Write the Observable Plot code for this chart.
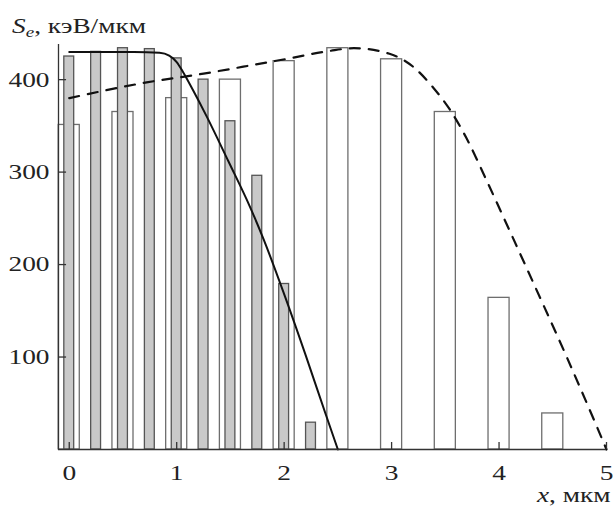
<!DOCTYPE html>
<html>
<head>
<meta charset="utf-8">
<script src="https://cdn.jsdelivr.net/npm/d3@7"></script>
<script src="https://cdn.jsdelivr.net/npm/@observablehq/plot@0.6"></script>
<style>
  html, body { margin: 0; padding: 0; background: #fff; }
  #chart { position: relative; width: 613px; height: 506px; overflow: hidden; }
  .lbl { position: absolute; font-family: "Liberation Serif", serif; font-size: 21.5px; line-height: 21.5px;
         color: #222; white-space: nowrap; transform-origin: 0 0; transform: scaleX(1.27); }
  .lbl i { font-style: italic; }
  .lbl sub { font-size: 15px; line-height: 0; vertical-align: -4px; font-style: italic; }
</style>
</head>
<body>
<div id="chart"></div>
<script>
// Gray bars
const grayX = [0, 0.25, 0.5, 0.75, 1, 1.25, 1.5, 1.75, 2, 2.25];
const grayVals = [425, 430, 434, 433, 423, 400, 355, 296, 179, 29];
// White bars
const whiteX = [0, 0.5, 1, 1.5, 2, 2.5, 3, 3.5, 4, 4.5];
const whiteVals = [351, 365, 380, 400, 420, 434, 422, 365, 164, 39];
// Solid curve
const solidX = [0, 0.6, 0.84, 0.93, 1.0, 1.06, 1.15, 1.28, 1.48, 1.68, 1.81, 2.0, 2.2, 2.39, 2.5];
const solidVals = [430, 430, 429, 426, 419, 408, 389, 360, 312, 263, 227, 168, 102, 37, 0];
// Dashed curve
const dashX = [0, 0.72, 1.25, 1.62, 2.05, 2.42, 2.65, 2.98, 3.2, 3.39, 3.54, 3.7, 3.88, 4.05, 4.32, 4.63, 4.92, 5.0];
const dashVals = [380, 397, 406.5, 414, 423, 431, 434, 428, 414, 391, 368, 336, 292, 249, 180, 100, 22, 0];
// Ticks
const xTicks = [0, 1, 2, 3, 4, 5];
const yTicks = [100, 200, 300, 400];

const gray = grayX.map((x, i) => ({x, v: grayVals[i]}));
const white = whiteX.map((x, i) => ({x, v: whiteVals[i]}));
const solid = solidX.map((x, i) => ({x, v: solidVals[i]}));
const dash = dashX.map((x, i) => ({x, v: dashVals[i]}));

const axisColor = "#333";
const xMin = -0.1;          // where the y axis line sits
const xTickLen = 7.6;       // inward x-tick length, in y units (~7px)
const yTickLen = 0.075;     // inward y-tick length, in x units (~8px)

const plot = Plot.plot({
  width: 613,
  height: 506,
  marginLeft: 58,
  marginRight: 7,
  marginTop: 44,
  marginBottom: 57,
  x: {domain: [xMin, 5]},
  y: {domain: [0, 438]},
  style: {fontFamily: "Liberation Serif, serif", fontSize: "21.5px", color: "#222", background: "white", overflow: "visible"},
  marks: [
    Plot.rectY(white, {x1: d => d.x - 0.098, x2: d => d.x + 0.098, y: "v", fill: "white", stroke: "#6e6e6e", strokeWidth: 1.3}),
    Plot.rectY(gray, {x1: d => d.x - 0.046, x2: d => d.x + 0.046, y: "v", fill: "#c9c9c9", stroke: "#555", strokeWidth: 1.3}),
    Plot.line(solid, {x: "x", y: "v", stroke: "#111", strokeWidth: 2, curve: "monotone-x"}),
    Plot.line(dash, {x: "x", y: "v", stroke: "#111", strokeWidth: 2.2, strokeDasharray: "10,9", curve: "monotone-x"}),
    Plot.ruleX([xMin], {stroke: axisColor, strokeWidth: 1.3}),
    Plot.ruleY([0], {stroke: axisColor, strokeWidth: 1.3}),
    // inward ticks
    Plot.ruleX(xTicks, {x: d => d, y1: 0, y2: xTickLen, stroke: axisColor, strokeWidth: 1.3}),
    Plot.ruleY(yTicks, {y: d => d, x1: xMin, x2: xMin + yTickLen, stroke: axisColor, strokeWidth: 1.3}),
    // tick labels
    Plot.axisX({ticks: xTicks, tickSize: 0, tickPadding: 15, label: null, tickFormat: d => String(d)}),
    Plot.axisY({ticks: yTicks, tickSize: 0, tickPadding: 9, label: null, tickFormat: d => String(d)})
  ]
});

const chart = document.getElementById("chart");
chart.appendChild(plot);

// widen the serif glyphs horizontally, as in the reference typesetting
plot.querySelectorAll("text").forEach(t => {
  const L = t.getComputedTextLength();
  if (L > 0) {
    t.setAttribute("textLength", (L * 1.27).toFixed(1));
    t.setAttribute("lengthAdjust", "spacingAndGlyphs");
  }
});

const yLabel = document.createElement("div");
yLabel.className = "lbl";
yLabel.style.left = "12px";
yLabel.style.top = "16px";
yLabel.innerHTML = "<i>S</i><sub>e</sub>, кэВ/мкм";
chart.appendChild(yLabel);

const xLabel = document.createElement("div");
xLabel.className = "lbl";
xLabel.style.left = "537px";
xLabel.style.top = "485px";
xLabel.innerHTML = "<i>x</i>, мкм";
chart.appendChild(xLabel);
</script>
</body>
</html>
